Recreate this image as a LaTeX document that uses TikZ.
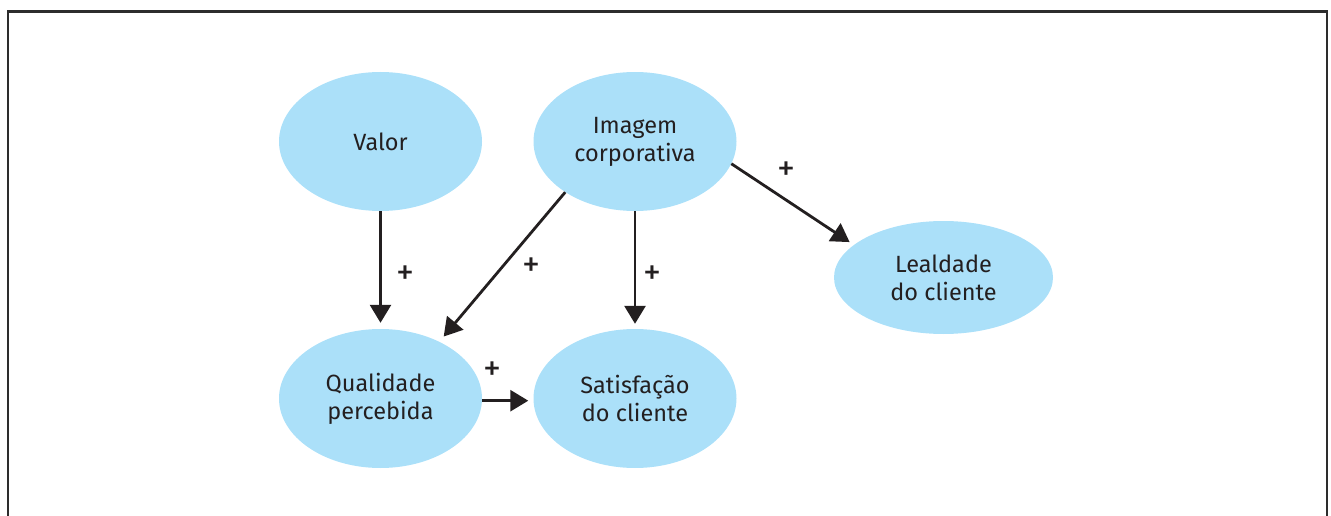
\documentclass[tikz,border=0pt]{standalone}
\usepackage{fontspec}
\setmainfont{Fira Sans}
\usetikzlibrary{shapes.geometric,arrows.meta}
\definecolor{bubble}{RGB}{171,224,249}
\definecolor{ink}{RGB}{35,31,32}
\definecolor{framec}{RGB}{45,45,45}
\begin{document}
\begin{tikzpicture}[x=1pt,y=-1pt,
  bub/.style={ellipse,fill=bubble,draw=none,inner sep=0pt,minimum width=203pt,minimum height=139pt,
    align=center,text=ink,font=\fontsize{23.5}{28}\selectfont},
  conn/.style={draw=ink,line width=2.8pt,-{Triangle[length=18pt,width=21pt]}},
  plus/.style={text=ink,font=\fontsize{36}{38}\selectfont,inner sep=0pt}]
\useasboundingbox (0,0) rectangle (1331,516);
\draw[framec,line width=2.6pt] (8,516) -- (8,11.5) -- (1327,11.5) -- (1327,516);
\node[bub] (valor) at (380.5,141.5) {Valor};
\node[bub] (imagem) at (635,141.5) {Imagem\\corporativa};
\node[bub] (qual) at (380.5,398.5) {Qualidade\\percebida};
\node[bub] (satis) at (635,398.5) {Satisfação\\do cliente};
\node[bub,minimum width=219pt,minimum height=113pt] (leal) at (943.5,277.5) {Lealdade\\do cliente};
\draw[conn,shorten >=6pt] (valor.south) -- (qual.north);
\draw[conn,shorten >=5pt] (imagem.south) -- (satis.north);
\draw[conn,shorten >=6.7pt] (imagem.216.5) -- (qual.44.5);
\draw[conn,shorten >=5pt] ([yshift=-2.2pt]qual.east) -- ([yshift=-2.2pt]satis.west);
\draw[conn,shorten >=5pt] (imagem.-13.5) -- (leal.160.9);
\node[plus] (p1) at (405,275) {+};
\node[plus] (p2) at (531,267) {+};
\node[plus] (p3) at (652,275) {+};
\node[plus] (p4) at (492,371) {+};
\node[plus] (p5) at (786,171) {+};
\end{tikzpicture}
\end{document}
